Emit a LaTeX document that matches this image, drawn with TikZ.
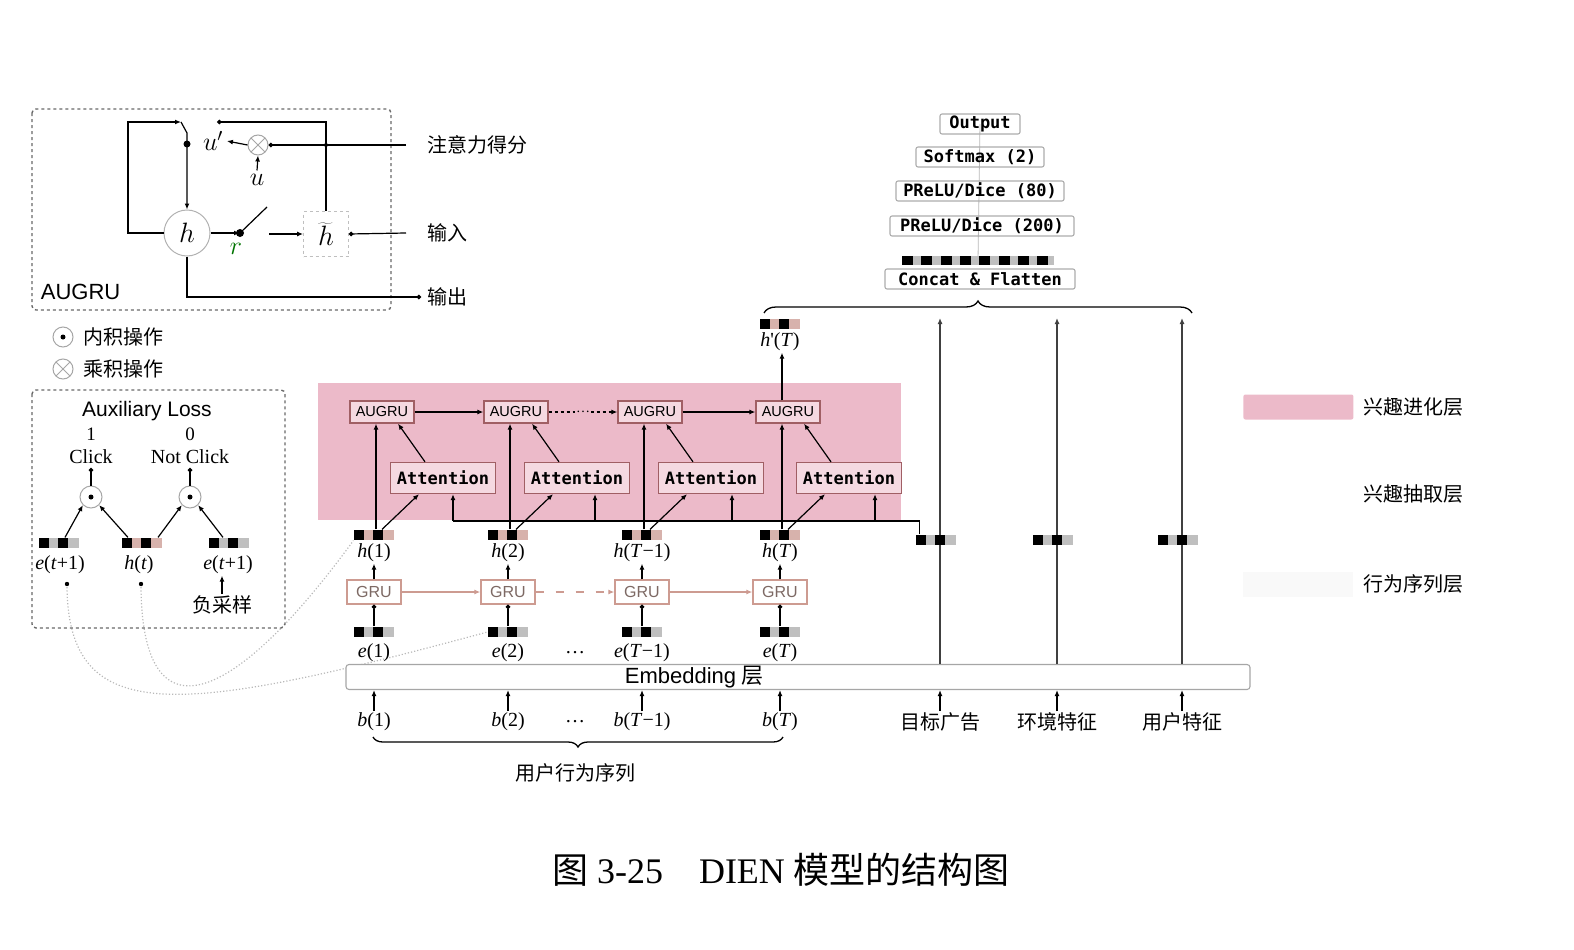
\documentclass[tikz,border=0pt]{standalone}
\usepackage{fix-cm}
\usepackage{fontspec}
\setmainfont{Noto Sans CJK SC}
\newfontfamily\timesf{Liberation Serif}
\newfontfamily\helf{Liberation Sans}
\newfontfamily\monof{DejaVu Sans Mono}
\usetikzlibrary{arrows.meta,positioning,decorations.pathreplacing,backgrounds}

\definecolor{pinkbg}{RGB}{236,186,201}
\definecolor{boxred}{RGB}{160,95,100}
\definecolor{grubrown}{RGB}{205,155,145}
\definecolor{grutext}{RGB}{125,105,100}
\definecolor{hgray}{RGB}{215,178,172}
\definecolor{dashgray}{RGB}{105,105,105}

\newcommand\fs[1]{\fontsize{#1}{#1}\selectfont}
\newcommand\vlab[2]{{\timesf\textit{#1}(#2)}}

\tikzset{
  arr/.style={-{Latex[length=6pt,width=5pt]}},
  dotarr/.style={-{Circle[length=4.5pt]}},
  dashbox/.style={draw=dashgray, line width=1.4pt, dash pattern=on 3pt off 3pt, rounded corners=4pt},
  vec/.style={rectangle, inner sep=0pt, minimum width=40pt, minimum height=10pt, fill=#1,
    path picture={
      \fill[black] (path picture bounding box.south west) rectangle ++(10pt,10pt);
      \fill[black] ([xshift=19pt]path picture bounding box.south west) rectangle ++(10pt,10pt);}},
  vec/.default=gray!50,
  augru/.style={draw=boxred, fill=pinkbg!55!white, line width=1.3pt, minimum width=64pt,
    minimum height=22pt, inner sep=0pt, font=\helf\fs{14.5}},
  attn/.style={draw=boxred, fill=pinkbg!55!white, line width=1.3pt, minimum width=105pt,
    minimum height=31pt, inner sep=0pt, font=\monof\bfseries\fs{17}},
  gru/.style={draw=grubrown, fill=white, line width=1.3pt, minimum width=54pt, minimum height=24pt,
    inner sep=0pt, text=grutext, font=\helf\fs{16}},
  stackbox/.style={draw=gray!65, line width=1.1pt, rounded corners=2pt, minimum height=20pt,
    inner sep=0pt, font=\monof\bfseries\fs{17}},
  var/.style={inner sep=1pt, font=\fs{20}},
  cjk/.style={inner sep=1pt, font=\fs{20}},
  odot/.style={circle, draw=gray!70, fill=white, line width=1pt, minimum size=#1, inner sep=0pt,
    path picture={\fill[black] (path picture bounding box.center) circle (2.5pt);}},
  odot/.default=20pt,
  otimes/.style={circle, draw=gray!70, fill=white, line width=1pt, minimum size=#1, inner sep=0pt,
    path picture={\draw[gray!70, line width=1pt]
      (path picture bounding box.north west) -- (path picture bounding box.south east)
      (path picture bounding box.north east) -- (path picture bounding box.south west);}},
  otimes/.default=20pt,
  curve/.style={gray!55, dotted, line width=1.2pt},
}

\begin{document}
\begin{tikzpicture}[x=1pt, y=-1pt, line width=1.2pt]
    \useasboundingbox (0,0) rectangle (1574,950);

    % AUGRU cell
    \draw[dashbox] (32,109) rectangle (391,310);
    \node[font=\helf\fs{22}, anchor=west] (cellname) at (37,292) {AUGRU};
    \node[circle, draw=gray!60, fill=white, line width=1pt, minimum size=46pt, inner sep=0pt,
          font=\fs{28}] (hc) at (187,233) {$h$};
    \coordinate (lp1) at (128,122);
    \coordinate (lp2) at (181,122);
    \coordinate (uj) at (187,144);
    \draw[arr] (hc.west) -| (lp1) -- (lp2);
    \draw[arr] (lp2) -- (187,133) -- (hc.north);
    \fill (uj) circle (3.5pt);
    \node[otimes] (mul) at (258,145) {};
    \node[font=\fs{26}] (ulab) at (213,141) {$u'$};
    \draw[arr] (mul.west) -- (ulab.east);
    \node[font=\fs{26}] (uin) at (257,180) {$u$};
    \draw[arr] (uin.north) -- (mul.south);
    \node[cjk, anchor=west] (attsc) at (426,145) {注意力得分};
    \draw[dotarr] ([xshift=-20pt]attsc.west) -- (mul.east);
    \node[draw=gray!50, dashed, line width=0.8pt, minimum size=45pt, inner sep=0pt,
          font=\fs{28}] (ht) at (326,234) {$\widetilde{h}$};
    \coordinate (rsw) at (240,233);
    \draw[arr] (hc.east) -- (rsw);
    \fill (rsw) circle (4pt);
    \draw (rsw) -- (267,207);
    \node[font=\fs{26}, text=green!45!black] (rlab) at (236,249) {$r$};
    \coordinate (swo) at (269,234);
    \draw[arr] (swo) -- (ht.west);
    \coordinate (tl) at (217,122);
    \draw[dotarr] (ht.north) |- (tl);
    \fill (ht.north |- mul) circle (2pt);
    \node[cjk, anchor=west] (inlab) at (426,233) {输入};
    \draw[dotarr] ([xshift=-20pt]inlab.west) -- (ht.east);
    \node[cjk, anchor=west] (outlab) at (426,297) {输出};
    \draw[dotarr] (hc.south) |- ([xshift=-5pt]outlab.west);

    % legend of the two operations
    \node[odot] (leg1) at (63,337) {};
    \node[cjk, anchor=west] (leg1t) at (82,337) {内积操作};
    \node[otimes] (leg2) at (63,369) {};
    \node[cjk, anchor=west] (leg2t) at (82,369) {乘积操作};

    % auxiliary loss
    \draw[dashbox] (32,390) rectangle (285,628);
    \node[font=\helf\fs{21}] (auxt) at (147,411) {Auxiliary Loss};
    \node[font=\timesf\fs{19}] (one) at (91,434) {1};
    \node[font=\timesf\fs{20}] (clk) at (91,457) {Click};
    \node[font=\timesf\fs{19}] (zero) at (190,434) {0};
    \node[font=\timesf\fs{20}] (nclk) at (190,457) {Not Click};
    \node[odot=22pt] (od1) at (91,497) {};
    \node[odot=22pt] (od2) at (190,497) {};
    \draw[dotarr] (od1.north) -- (od1.north |- clk.south);
    \draw[dotarr] (od2.north) -- (od2.north |- nclk.south);
    \node[vec] (ea) at (59,543) {};
    \node[vec=hgray] (hx) at (142,543) {};
    \node[vec] (ez) at (229,543) {};
    \draw[arr] ([xshift=6pt]ea.north) -- (od1.south west);
    \draw[arr] ([xshift=-14pt]hx.north) -- (od1.south east);
    \draw[arr] ([xshift=16pt]hx.north) -- (od2.south west);
    \draw[arr] ([xshift=-6pt]ez.north) -- (od2.south east);
    \node[var] (eal) at (60,565) {\vlab{e}{\textit{t}+1}};
    \node[var] (hxl) at (139,565) {\vlab{h}{\textit{t}}};
    \node[var] (ezl) at (228,565) {\vlab{e}{\textit{t}+1}};
    \node[cjk] (neg) at (222,605) {负采样};
    \draw[arr] (neg.north) -- (neg.north |- ezl.south);
    \coordinate (d1) at (67,584);
    \coordinate (d2) at (141,584);
    \fill (d1) circle (2.2pt);
    \fill (d2) circle (2.2pt);

    % interest evolving layer
    \fill[pinkbg] (318,383) rectangle (901,520);
    \foreach \i/\c/\t/\o in {1/374/1/10, 2/508/2/18, 3/642/\textit{T}−1/21, 4/780/\textit{T}/26} {
        \node[gru] (gru\i) at (\c,592) {GRU};
        \node[vec] (eb\i) at (\c,632) {};
        \node[var] (el\i) at (\c,653) {\vlab{e}{\t}};
        \node[vec=hgray] (hb\i) at (\c,535) {};
        \node[var] (hl\i) at (\c,553) {\vlab{h}{\t}};
        \node[var] (bl\i) at (\c,722) {\vlab{b}{\t}};
        \node[augru] (aug\i) at (\c+8,412) {AUGRU};
        \node[attn] (att\i) at (\c+69,478) {Attention};
        \coordinate (tk\i) at (\c+69+\o,521);
        \draw[dotarr] (eb\i.north) -- (gru\i.south);
        \draw[arr] (gru\i.north) -- (hl\i.south);
        \draw[arr] ([xshift=2pt]hb\i.north) -- ([xshift=2pt]hb\i.north |- aug\i.south);
        \draw[arr] ([xshift=8pt]hb\i.north) -- ([xshift=-24pt]att\i.south);
        \draw[arr] ([xshift=-18pt]att\i.north) -- ([xshift=16pt]aug\i.south);
        \draw[arr] (tk\i) -- (tk\i |- att\i.south);
    }
    \draw[arr] (aug1.east) -- (aug2.west);
    \draw[arr, dashed] (aug2.east) -- node[fill=pinkbg, inner sep=1pt, font=\timesf\fs{14}] (adots) {…} (aug3.west);
    \draw[arr] (aug3.east) -- (aug4.west);
    \draw[arr, grubrown] (gru1.east) -- (gru2.west);
    \draw[arr, grubrown, dash pattern=on 8pt off 12pt] (gru2.east) -- (gru3.west);
    \draw[arr, grubrown] (gru3.east) -- (gru4.west);
    \node[var] (edots) at (575,653) {\timesf …};
    \node[var] (bdots) at (575,722) {\timesf …};

    % final hidden state
    \node[vec=hgray] (hpb) at (780,324) {};
    \node[var] (hpl) at (780,342) {{\timesf\textit{h}'(\textit{T})}};
    \draw[arr] ([xshift=-6pt]aug4.north) -- ([xshift=-6pt]aug4.north |- hpl.south);

    % embedding layer
    \node[draw=gray!70, fill=white, line width=1.1pt, rounded corners=3pt, minimum width=904pt,
          minimum height=25pt, inner sep=0pt] (emb) at (798,677) {};
    \node[font=\fs{22}] (embl) at (694,677) {{\helf Embedding} 层};
    \foreach \i in {1,...,4} {
        \draw[arr] (bl\i.north) -- (bl\i.north |- emb.south);
    }
    \draw[decorate, decoration={brace, amplitude=10pt}, line width=1.3pt] (783,737) -- (373,737);
    \node[cjk] (seq) at (575,773) {用户行为序列};

    % other features
    \foreach \n/\x/\t in {tad/940/目标广告, env/1057/环境特征, usr/1182/用户特征} {
        \node[cjk] (\n) at (\x,722) {\t};
        \coordinate (\n-top) at (\x,318);
        \draw[arr] (\n.north) -- (\n.north |- emb.south);
        \draw[arr, black!75] (\n.north |- emb.north) -- (\n-top);
        \node[vec] (\n-bar) at (\x-4,540) {};
    }
    \draw ([xshift=4pt]tad-bar.north west) |- (tk1);

    % MLP stack
    \node[stackbox, minimum width=80pt] (outp) at (980,124) {Output};
    \node[stackbox, minimum width=128pt] (soft) at (980,157) {Softmax (2)};
    \node[stackbox, minimum width=168pt] (pr80) at (980,191) {PReLU/Dice (80)};
    \node[stackbox, minimum width=184pt] (pr200) at (982,226) {PReLU/Dice (200)};
    \node[rectangle, fill=gray!50, minimum width=152pt, minimum height=9pt, inner sep=0pt,
          path picture={\foreach \k in {0,...,7}
            \fill[black] ([xshift=\k*19.3pt]path picture bounding box.south west) rectangle ++(11pt,9pt);}]
          (flat) at (978,260) {};
    \node[stackbox, minimum width=190pt] (concat) at (980,279) {Concat \& Flatten};
    \draw[decorate, decoration={brace, amplitude=12pt}, line width=1.3pt] (764,313) -- (1192,313);

    % layer legend
    \node[cjk, anchor=west] (evo) at (1362,407) {兴趣进化层};
    \node[fill=pinkbg, rounded corners=2pt, minimum width=110pt, minimum height=25pt,
          left=8pt of evo] (swevo) {};
    \node[cjk, anchor=west] (ext) at (1362,494) {兴趣抽取层};
    \node[cjk, anchor=west] (beh) at (1362,584) {行为序列层};
    \node[fill=gray!5, minimum width=110pt, minimum height=25pt, left=8pt of beh] (swbeh) {};

    % caption
    \node[font=\fs{36}] (cap) at (781,870) {图 {\timesf 3-25}\hspace{36pt}{\timesf DIEN} 模型的结构图};

    % background links
    \begin{scope}[on background layer]
        \draw[gray!55, line width=0.8pt] (outp.center) -- (flat.center);
        \draw[curve] (d1) .. controls (67,730) and (180,715) .. (eb2.west);
        \draw[curve] (d2) .. controls (141,740) and (230,710) .. (hb1.south west);
    \end{scope}
\end{tikzpicture}
\end{document}
